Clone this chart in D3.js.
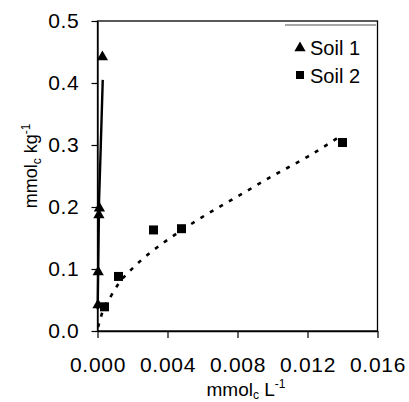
<!DOCTYPE html>
<html>
<head>
<meta charset="utf-8">
<script src="https://cdn.jsdelivr.net/npm/d3@7"></script>
<style>
  body { margin: 0; background: #fff; }
  svg { display: block; font-family: "Liberation Sans", Arial, sans-serif; }
</style>
</head>
<body>
<svg width="409" height="402"></svg>
<script>
// measured points, Soil 1 (triangles)
var soil1X = [0.00003, 0.00004, 0.00008, 0.00011, 0.00028];
var soil1Y = [0.042, 0.095, 0.187, 0.198, 0.442];
// measured points, Soil 2 (squares)
var soil2X = [0.0004, 0.0012, 0.0032, 0.0048, 0.0140];
var soil2Y = [0.039, 0.088, 0.163, 0.165, 0.304];
// fitted curves
var fit1X = [0.00001, 0.00005, 0.00009, 0.00018, 0.00030];
var fit1Y = [0.035, 0.12, 0.211, 0.292, 0.405];
var fit2X = [0.00003, 0.0003, 0.0008, 0.00125, 0.002, 0.003, 0.0039, 0.0056, 0.008, 0.010, 0.012, 0.0137];
var fit2Y = [0.006, 0.032, 0.058, 0.078, 0.101, 0.126, 0.145, 0.177, 0.217, 0.250, 0.281, 0.311];
var xTicks = [0, 0.004, 0.008, 0.012, 0.016];
var yTicks = [0, 0.1, 0.2, 0.3, 0.4, 0.5];
var legendNames = ["Soil 1", "Soil 2"];

var svg = d3.select("svg");
var x = d3.scaleLinear().domain([0, 0.016]).range([97.5, 377.5]);
var y = d3.scaleLinear().domain([0, 0.5]).range([331, 21]);

function zip(a, b) { return a.map(function(v, i) { return [v, b[i]]; }); }

// frame
svg.append("rect")
    .attr("x", x(0)).attr("y", y(0.5))
    .attr("width", x(0.016) - x(0)).attr("height", y(0) - y(0.5))
    .attr("fill", "none").attr("stroke", "#000").attr("stroke-width", 1.3);

var xAxis = svg.append("g")
    .attr("transform", "translate(0," + y(0) + ")")
    .call(d3.axisBottom(x).tickValues(xTicks).tickFormat(d3.format(".3f")).tickSizeInner(7).tickSizeOuter(0).tickPadding(19));
var yAxis = svg.append("g")
    .attr("transform", "translate(" + x(0) + ",0)")
    .call(d3.axisLeft(y).tickValues(yTicks).tickFormat(d3.format(".1f")).tickSizeInner(6).tickSizeOuter(0).tickPadding(12));
[xAxis, yAxis].forEach(function(a) {
  a.select(".domain").attr("stroke", "#000").attr("stroke-width", 1.3);
  a.selectAll(".tick line").attr("stroke", "#000").attr("stroke-width", 1.2);
  a.selectAll("text").attr("fill", "#000")
      .style("font-size", "21px").style("letter-spacing", "0.7px")
      .style("font-family", "Liberation Sans, Arial, sans-serif");
});

// axis titles
var xt = svg.append("text").attr("x", 246).attr("y", 396)
    .attr("text-anchor", "middle").style("font-size", "19px");
xt.append("tspan").text("mmol");
xt.append("tspan").attr("dy", 3).style("font-size", "12px").text("c");
xt.append("tspan").attr("dy", -3).text(" L");
xt.append("tspan").attr("dy", -8).style("font-size", "12px").text("-1");

var yt = svg.append("text").attr("transform", "translate(37,166) rotate(-90)")
    .attr("text-anchor", "middle").style("font-size", "18px");
yt.append("tspan").text("mmol");
yt.append("tspan").attr("dy", 4).style("font-size", "12px").text("c");
yt.append("tspan").attr("dy", -4).text(" kg");
yt.append("tspan").attr("dy", -7).style("font-size", "12px").text("-1");

var line = d3.line()
    .curve(d3.curveMonotoneX)
    .x(function(d) { return x(d[0]); })
    .y(function(d) { return y(d[1]); });

svg.append("path").datum(zip(fit2X, fit2Y))
    .attr("d", line).attr("fill", "none").attr("stroke", "#000")
    .attr("stroke-width", 2.6).attr("stroke-dasharray", "4,7");

svg.append("path").datum(zip(fit1X, fit1Y))
    .attr("d", d3.line().x(function(d) { return x(d[0]); }).y(function(d) { return y(d[1]); }))
    .attr("fill", "none").attr("stroke", "#000").attr("stroke-width", 2.4);

var tri = d3.symbol(d3.symbolTriangle, 55);
var sq = d3.symbol(d3.symbolSquare, 81);

svg.selectAll(".s1").data(zip(soil1X, soil1Y)).enter().append("path")
    .attr("class", "s1").attr("d", tri)
    .attr("transform", function(d) { return "translate(" + x(d[0]) + "," + y(d[1]) + ")"; })
    .attr("fill", "#000");
svg.selectAll(".s2").data(zip(soil2X, soil2Y)).enter().append("path")
    .attr("class", "s2").attr("d", sq)
    .attr("transform", function(d) { return "translate(" + x(d[0]) + "," + y(d[1]) + ")"; })
    .attr("fill", "#000");

// legend
var lg = svg.append("g");
lg.append("line").attr("x1", 285).attr("x2", 376).attr("y1", 25).attr("y2", 25)
    .attr("stroke", "#888").attr("stroke-width", 1.5);
legendNames.forEach(function(n, i) {
  lg.append("path").attr("d", i === 0 ? tri : d3.symbol(d3.symbolSquare, 64))
      .attr("transform", "translate(300," + (48 + i * 27) + ")").attr("fill", "#000");
  lg.append("text").attr("x", 310).attr("y", 55 + i * 28)
      .style("font-size", "20px").attr("fill", "#000").text(n);
});
</script>
</body>
</html>
